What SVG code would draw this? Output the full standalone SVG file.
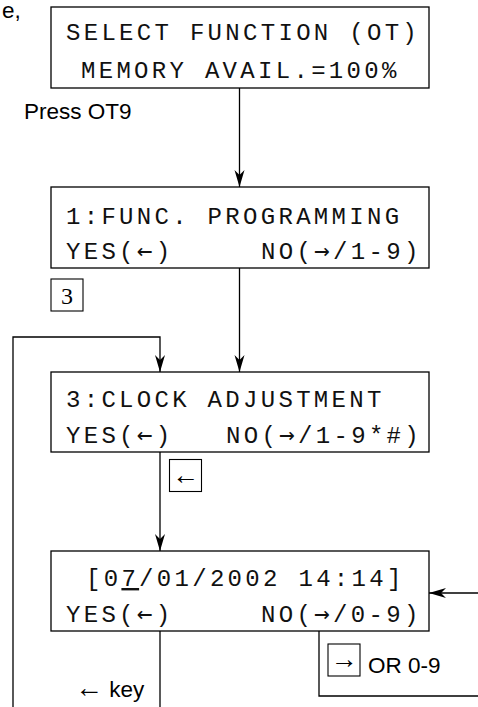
<svg xmlns="http://www.w3.org/2000/svg" width="478" height="707" viewBox="0 0 478 707">
  <style>
    .box { fill: #fff; stroke: #000; stroke-width: 1.3; }
    .key { fill: #fff; stroke: #000; stroke-width: 1.1; }
    .lcd { font-family: "Liberation Mono", "Courier New", monospace; font-size: 24px; letter-spacing: 3.3px; fill: #111; }
    .arw { font-family: "DejaVu Sans Mono", monospace; font-size: 26px; }
    .lbl { font-family: "Liberation Sans", Arial, sans-serif; font-size: 22.5px; fill: #000; }
    .kg { font-family: "Liberation Serif", "Times New Roman", serif; font-size: 24px; fill: #000; text-anchor: middle; }
    .kga { font-family: "Liberation Serif", "Times New Roman", serif; font-size: 27px; fill: #000; text-anchor: middle; }
    .wire { fill: none; stroke: #000; stroke-width: 1.3; }
  </style>
  <defs>
    <marker id="head" markerUnits="userSpaceOnUse" markerWidth="20" markerHeight="12" viewBox="-18 -6 19 12" refX="0" refY="0" orient="auto">
      <path d="M0,0 L-17,-5 L-12,0 L-17,5 Z" fill="#000"/>
    </marker>
  </defs>

  <rect width="478" height="707" fill="#fff"/>

  <!-- fragment of the preceding sentence -->
  <text class="lbl" x="2" y="18">e,</text>

  <g id="connectors">
    <path class="wire" d="M239.5,88 V187" marker-end="url(#head)"/>
    <path class="wire" d="M239.5,268 V372" marker-end="url(#head)"/>
    <path class="wire" d="M13,707 V337 H160 V372" marker-end="url(#head)"/>
    <path class="wire" d="M160,452 V551" marker-end="url(#head)"/>
    <path class="wire" d="M160,631 V707"/>
    <path class="wire" d="M319,631 V696 H478"/>
    <path class="wire" d="M478,593 H429" marker-end="url(#head)"/>
  </g>

  <g id="select-function">
    <rect class="box" x="51" y="7" width="378" height="81"/>
    <text class="lcd" x="66" y="40">SELECT FUNCTION (OT)</text>
    <text class="lcd" x="81" y="78">MEMORY AVAIL.=100%</text>
  </g>

  <text id="press-ot9" class="lbl" x="24" y="119">Press OT9</text>

  <g id="func-programming">
    <rect class="box" x="51" y="187" width="378" height="81"/>
    <text class="lcd" x="66" y="224">1:FUNC. PROGRAMMING</text>
    <text class="lcd" x="66" y="259">YES(<tspan class="arw">←</tspan>)</text>
    <text class="lcd" x="261" y="259">NO(<tspan class="arw">→</tspan>/1-9)</text>
  </g>

  <g id="key-3">
    <rect class="key" x="51" y="279" width="32" height="32"/>
    <text class="kg" x="67" y="304">3</text>
  </g>

  <g id="clock-adjustment">
    <rect class="box" x="51" y="372" width="378" height="80"/>
    <text class="lcd" x="66" y="407">3:CLOCK ADJUSTMENT</text>
    <text class="lcd" x="66" y="443">YES(<tspan class="arw">←</tspan>)</text>
    <text class="lcd" x="226" y="443">NO(<tspan class="arw">→</tspan>/1-9*#)</text>
  </g>

  <g id="key-left">
    <rect class="key" x="169.5" y="459.5" width="32" height="32"/>
    <text class="kga" x="185.5" y="484">←</text>
  </g>

  <g id="date-time">
    <rect class="box" x="51" y="551" width="378" height="80"/>
    <text class="lcd" x="86" y="586">[0<tspan text-decoration="underline">7</tspan>/01/2002 14:14]</text>
    <text class="lcd" x="66" y="622">YES(<tspan class="arw">←</tspan>)</text>
    <text class="lcd" x="261" y="622">NO(<tspan class="arw">→</tspan>/0-9)</text>
  </g>

  <g id="key-right">
    <rect class="key" x="328" y="644" width="32" height="32"/>
    <text class="kga" x="344" y="668">→</text>
    <text class="lbl" x="368" y="673">OR 0-9</text>
  </g>

  <text id="left-key" class="lbl" x="75" y="697"><tspan font-family="Liberation Serif, serif" font-size="28px">←</tspan> key</text>
</svg>
